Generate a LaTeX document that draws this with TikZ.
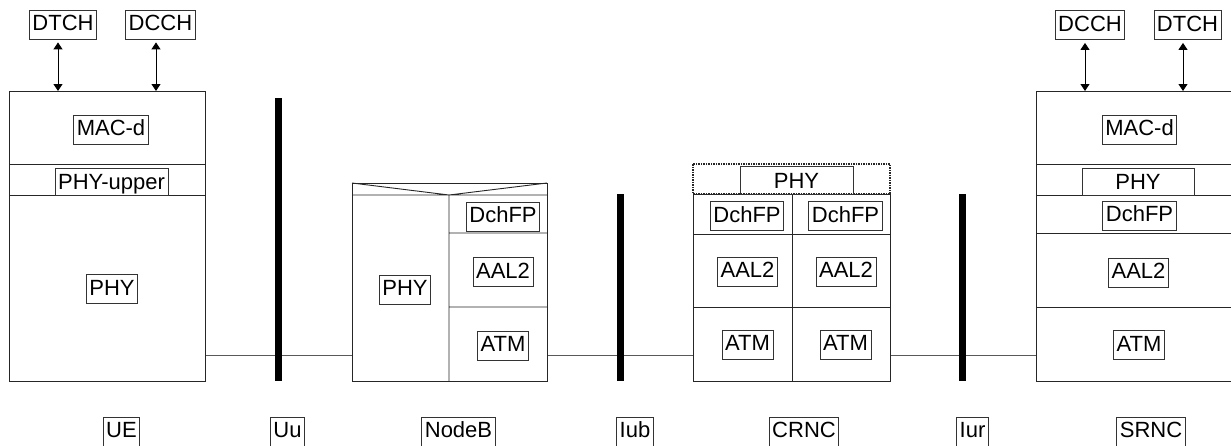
\documentclass[tikz,border=0pt]{standalone}
\usepackage{fontspec}
\setmainfont{Liberation Sans}
\usetikzlibrary{arrows.meta}

\tikzset{
  lbl/.style={draw=black!80, line width=0.8pt, inner xsep=3pt, inner ysep=0pt,
              minimum height=29pt, text height=16pt, text depth=4pt,
              font=\fontsize{22pt}{26pt}\selectfont},
  striplbl/.style={lbl, minimum height=27pt, text depth=0pt},
  layer/.style={draw=black!85, line width=0.9pt},
  stack/.style={layer, anchor=north west, inner sep=0pt},
  bar/.style={line width=7pt},
  link/.style={draw=black!65, line width=0.8pt},
  chan/.style={line width=0.9pt, shorten <=3pt,
               {Triangle[width=9pt,length=7pt]}-{Triangle[width=9pt,length=7pt]}},
}

\begin{document}
\begin{tikzpicture}[x=1pt, y=-1pt]
\clip (0,0) rectangle (1231,445);
\coordinate (lk) at (0,355);

% UE
\node[stack, minimum width=196pt, minimum height=290pt] (ue) at (9,91) {};
\draw[layer] (9,164) -- (205,164) (9,195) -- (205,195);
\node[lbl] (macU) at (111,129.5) {MAC-d};
\node[striplbl, minimum width=111pt] (phyupU) at (111.5,181.5) {PHY-upper};
\node[lbl] (phyU) at (112,289) {PHY};
\node[lbl] (dtchU) at (63,24.5) {DTCH};
\node[lbl] (dcchU) at (160.5,24.5) {DCCH};
\draw[chan] ([xshift=-5pt]dtchU.south) -- ([xshift=-5pt]dtchU.south |- ue.north);
\draw[chan] ([xshift=-4.5pt]dcchU.south) -- ([xshift=-4.5pt]dcchU.south |- ue.north);

% NodeB
\node[stack, minimum width=195pt, minimum height=198pt] (nb) at (352,183) {};
\draw[layer] (352,195) -- (547,195) (352,183) -- (449,195) -- (547,183)
  (449,195) -- (449,381) (449,233) -- (547,233) (449,307) -- (547,307);
\node[lbl] (phyB) at (405,289.5) {PHY};
\node[lbl] (fpB) at (503,216.5) {DchFP};
\node[lbl] (aalB) at (503,272) {AAL2};
\node[lbl] (atmB) at (503,345.5) {ATM};

% CRNC
\node[stack, minimum width=197pt, minimum height=187pt] (crnc) at (693,194) {};
\draw[layer, line width=2pt, dash pattern=on 1.5pt off 1pt] (693,164) rectangle (890,194);
\draw[layer] (792,194) -- (792,381) (693,234) -- (890,234) (693,307) -- (890,307);
\node[striplbl, minimum width=113pt, minimum height=28pt] (phyC) at (796.5,180.5) {PHY};
\node[lbl] (fpC1) at (747,216) {DchFP};
\node[lbl] (fpC2) at (845.5,216) {DchFP};
\node[lbl] (aalC1) at (747.5,271.5) {AAL2};
\node[lbl] (aalC2) at (846,271.5) {AAL2};
\node[lbl] (atmC1) at (747.5,344.5) {ATM};
\node[lbl] (atmC2) at (845.5,344.5) {ATM};

% SRNC
\node[stack, minimum width=215pt, minimum height=290pt] (srnc) at (1036,91) {};
\draw[layer] (1036,164) -- (1251,164) (1036,195) -- (1251,195)
  (1036,233) -- (1251,233) (1036,307) -- (1251,307);
\node[lbl] (dcchS) at (1090,25) {DCCH};
\node[lbl] (dtchS) at (1187.5,25) {DTCH};
\draw[chan] ([xshift=-5pt]dcchS.south) -- ([xshift=-5pt]dcchS.south |- srnc.north);
\draw[chan] ([xshift=-4.5pt]dtchS.south) -- ([xshift=-4.5pt]dtchS.south |- srnc.north);
\node[lbl] (macS) at (1139.5,129.5) {MAC-d};
\node[striplbl, minimum width=112pt] (phyS) at (1138,181.5) {PHY};
\node[lbl] (fpS) at (1139.5,215.5) {DchFP};
\node[lbl] (aalS) at (1138.5,272.5) {AAL2};
\node[lbl] (atmS) at (1139,345) {ATM};

% links and interfaces
\draw[link] (ue.east |- lk) -- (nb.west |- lk);
\draw[link] (nb.east |- lk) -- (crnc.west |- lk);
\draw[link] (crnc.east |- lk) -- (srnc.west |- lk);
\draw[bar] (278.5,98) -- (278.5,381);
\draw[bar] (620.5,194) -- (620.5,381);
\draw[bar] (962.5,194) -- (962.5,381);

\node[lbl] (nUE) at (121.5,431.5) {UE};
\node[lbl] (nUu) at (287.5,431.5) {Uu};
\node[lbl] (nNB) at (458.5,431.5) {NodeB};
\node[lbl] (nIub) at (635,431.5) {Iub};
\node[lbl] (nCR) at (804,431.5) {CRNC};
\node[lbl] (nIur) at (972.5,431.5) {Iur};
\node[lbl] (nSR) at (1151,431.5) {SRNC};
\end{tikzpicture}
\end{document}
